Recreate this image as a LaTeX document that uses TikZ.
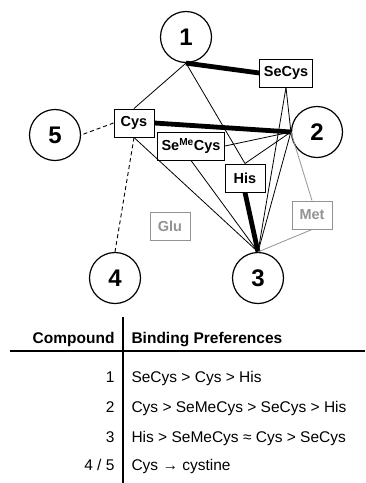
\documentclass[tikz,border=0pt]{standalone}
\usepackage{fontspec}
\setmainfont{Liberation Sans}
\usepackage{xcolor}
\usepackage{tikz}

\begin{document}
\begin{tikzpicture}[x=1pt,y=-1pt,
  cpd/.style={draw,line width=1.2pt,circle,minimum size=51pt,inner sep=0pt,
    font=\fontsize{24}{24}\selectfont\bfseries},
  res/.style={draw,line width=1pt,minimum width=40pt,minimum height=28pt,
    inner xsep=4pt,font=\fontsize{14.5}{14.5}\selectfont\bfseries},
  weak/.style={res,draw=gray!85,text=gray!85},
  bond/.style={line width=0.8pt},
  strong/.style={line width=4.8pt},
  faint/.style={line width=0.8pt,draw=gray!85},
  redox/.style={line width=0.9pt,dash pattern=on 4pt off 3pt},
  tab/.style={font=\fontsize{15.5}{15.5}\selectfont}]
  \useasboundingbox (0,0) rectangle (365,483);

  % compounds
  \node[cpd] (n1) at (186,37) {1};
  \node[cpd] (n2) at (317,132) {2};
  \node[cpd] (n3) at (258,278) {3};
  \node[cpd] (n4) at (115,278) {4};
  \node[cpd] (n5) at (55,135) {5};

  % residues
  \node[res] (secys) at (286,73) {SeCys};
  \node[res] (cys) at (134,123) {Cys};
  \node[res] (semecys) at (191,146) {Se\textsuperscript{Me}Cys};
  \node[res] (his) at (245,178) {His};
  \node[weak] (met) at (312,215) {Met};
  \node[weak] (glu) at (170,226) {Glu};

  % binding
  \draw[strong] (n1.south) -- (secys.west);
  \draw[bond] (n1.south) -- (cys.north);
  \draw[bond] (n1.south) -- (his.north);
  \draw[strong] (cys.east) -- (n2.west);
  \draw[bond] (semecys.east) -- (n2.west);
  \draw[bond] (his.north) -- (n2.west);
  \draw[bond] (secys.south) -- (n2.west);
  \draw[bond] (secys.south) -- (n3.north);
  \draw[bond] (n2.west) -- (n3.north);
  \draw[bond] (cys.south) -- (n3.north);
  \draw[bond] (semecys.south) -- (n3.north);
  \draw[strong] (his.south) -- (n3.north);
  \draw[faint] (n2.west) -- (met.north);
  \draw[faint] (met.south) -- (n3.north);
  \draw[redox] (cys.west) -- (n5.east);
  \draw[redox] (cys.south) -- (n4.north);

  % table
  \draw[line width=1.2pt] (10,351) -- (365,351);
  \draw[line width=1.3pt] (123,317) -- (123,483);
  \node[tab,anchor=base east,font=\fontsize{15.5}{15.5}\selectfont\bfseries] (hcpd) at (118,343) {Compound};
  \node[tab,anchor=base west,font=\fontsize{15.5}{15.5}\selectfont\bfseries] (hpref) at (128,343) {Binding Preferences};
  \node[tab,anchor=base east] (c1) at (118,382) {1};
  \node[tab,anchor=base west] (p1) at (128,382) {SeCys > Cys > His};
  \node[tab,anchor=base east] (c2) at (118,412) {2};
  \node[tab,anchor=base west] (p2) at (128,412) {Cys > SeMeCys > SeCys > His};
  \node[tab,anchor=base east] (c3) at (118,442) {3};
  \node[tab,anchor=base west] (p3) at (128,442) {His > SeMeCys ≈ Cys > SeCys};
  \node[tab,anchor=base east] (c45) at (118,470) {4 / 5};
  \node[tab,anchor=base west] (p45) at (128,470) {Cys → cystine};
\end{tikzpicture}
\end{document}
